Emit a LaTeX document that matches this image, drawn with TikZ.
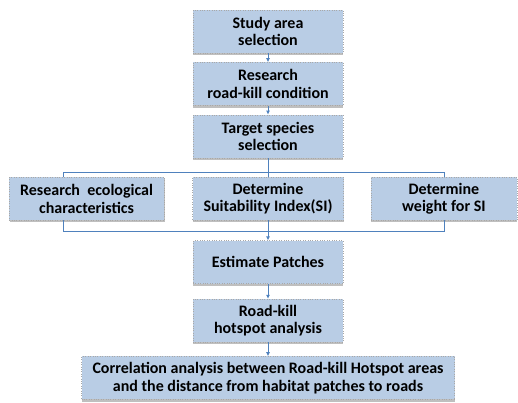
\documentclass[tikz,border=0pt]{standalone}
\usepackage{fontspec}
\usepackage{xcolor}
\usepackage{tikz}
\usetikzlibrary{arrows.meta,positioning,shadows}
\newfontfamily\boxfont{Carlito}
\definecolor{BoxFill}{HTML}{B9CDE5}
\definecolor{BoxEdge}{HTML}{A8A8A8}
\definecolor{Link}{HTML}{4F81BD}
\tikzset{
  box/.style={draw=BoxEdge,dotted,fill=BoxFill,minimum width=150pt,minimum height=43pt,align=center,inner sep=1pt,
    font=\boxfont\bfseries\fontsize{16}{17.5}\selectfont,
    drop shadow={shadow xshift=0.4pt,shadow yshift=-2.2pt,fill=gray!50,opacity=1}},
  line/.style={-{Latex[length=4pt,width=4pt]},line width=0.8pt,color=Link},
  bus/.style={line width=0.8pt,color=Link}
}

\begin{document}
\begin{tikzpicture}[x=1pt,y=-1pt,node distance=9pt]
  \useasboundingbox (0,0) rectangle (518,402);
  \node[box] (study) at (268,31.5) {Study area\\selection};
  \node[box,below=of study] (survey) {Research\\road-kill condition};
  \node[box,below=of survey] (target) {Target species\\selection};
  \node[box,below=of target,yshift=-10pt,minimum width=151pt] (suit) {Determine\\Suitability Index(SI)};
  \node[box,left=28pt of suit,minimum width=155pt] (ecology) {Research\ \ ecological\\characteristics};
  \node[box,right=27pt of suit,minimum width=146pt] (weight) {Determine\\weight for SI};
  \node[box,below=of suit,yshift=-11pt] (patch) {Estimate Patches};
  \node[box,below=of patch,yshift=-6pt] (hotspot) {Road-kill\\hotspot analysis};
  \node[box,below=of hotspot,yshift=-5pt,minimum width=373pt] (corr) {Correlation analysis between Road-kill Hotspot areas\\and the distance from habitat patches to roads};

  \coordinate (splitL) at (63,172);
  \coordinate (splitR) at (weight.north |- splitL);
  \coordinate (joinL) at (63,231);
  \coordinate (joinR) at (weight.south |- joinL);

  \draw[line] (study) -- (survey);
  \draw[line] (survey) -- (target);
  \draw[bus] (target) -- (suit);
  \draw[bus] (ecology.north -| splitL) -- (splitL) -- (splitR) -- (weight.north);
  \draw[bus] (ecology.south -| joinL) -- (joinL) -- (joinR) -- (weight.south);
  \draw[line] (suit) -- (patch);
  \draw[line] (patch) -- (hotspot);
  \draw[line] (hotspot) -- (corr);
\end{tikzpicture}
\end{document}
